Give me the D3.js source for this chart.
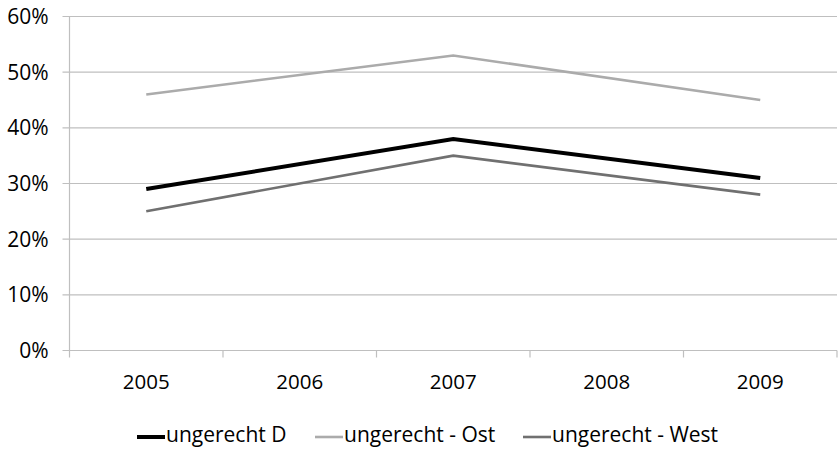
<!DOCTYPE html>
<html>
<head>
<meta charset="utf-8">
<script src="https://cdn.jsdelivr.net/npm/d3@7"></script>
<style>
  body { margin: 0; background: white; }
  text { font-family: "Open Sans", "Liberation Sans", sans-serif; fill: #000; }
</style>
</head>
<body>
<script>
// data (2006 / 2008 have no values, line joins the known years)
var years = ["2005", "2006", "2007", "2008", "2009"];
var ungerechtD    = [0.29, null, 0.38, null, 0.31];
var ungerechtOst  = [0.46, null, 0.53, null, 0.45];
var ungerechtWest = [0.25, null, 0.35, null, 0.28];
var yTicks = [0, 0.1, 0.2, 0.3, 0.4, 0.5, 0.6];

var series = [
  {name: "ungerecht D", values: ungerechtD, color: "#000000", width: 4},
  {name: "ungerecht - Ost", values: ungerechtOst, color: "#ababab", width: 2.6},
  {name: "ungerecht - West", values: ungerechtWest, color: "#707070", width: 2.6}
];

var width = 839, height = 450;
var margin = {left: 69.5, right: 2, top: 16.5, bottom: 99.5};

var svg = d3.select("body").append("svg")
    .attr("width", width)
    .attr("height", height);

var x = d3.scaleBand()
    .domain(years)
    .range([margin.left, width - margin.right]);

var y = d3.scaleLinear()
    .domain([0, 0.6])
    .range([height - margin.bottom, margin.top]);

// gridlines
svg.append("g")
  .selectAll("line")
  .data(yTicks)
  .enter().append("line")
  .attr("x1", margin.left - 7)
  .attr("x2", width - margin.right)
  .attr("y1", function(d) { return y(d); })
  .attr("y2", function(d) { return y(d); })
  .style("stroke", "#bfbfbf")
  .style("stroke-width", 1.2);

// y axis line
svg.append("line")
  .attr("x1", margin.left).attr("x2", margin.left)
  .attr("y1", y(0.6)).attr("y2", y(0))
  .style("stroke", "#bfbfbf")
  .style("stroke-width", 1.2);

// y labels
svg.append("g")
  .selectAll("text")
  .data(yTicks)
  .enter().append("text")
  .attr("x", 48.5)
  .attr("y", function(d) { return y(d); })
  .attr("dy", "0.36em")
  .attr("text-anchor", "end")
  .style("font-size", "21px")
  .text(d3.format(".0%"));

// x axis ticks between categories
var bounds = years.map(function(d) { return x(d); }).concat([x(years[4]) + x.bandwidth()]);
svg.append("g")
  .selectAll("line")
  .data(bounds)
  .enter().append("line")
  .attr("x1", function(d) { return d; })
  .attr("x2", function(d) { return d; })
  .attr("y1", y(0))
  .attr("y2", y(0) + 7)
  .style("stroke", "#bfbfbf")
  .style("stroke-width", 1.2);

// x labels
svg.append("g")
  .selectAll("text")
  .data(years)
  .enter().append("text")
  .attr("x", function(d) { return x(d) + x.bandwidth() / 2; })
  .attr("y", 382)
  .attr("dy", "0.36em")
  .attr("text-anchor", "middle")
  .style("font-size", "20.5px")
  .text(function(d) { return d; });

// lines
var line = d3.line()
    .x(function(d) { return x(d.year) + x.bandwidth() / 2; })
    .y(function(d) { return y(d.v); });

series.forEach(function(s) {
  var pts = years.map(function(yr, i) { return {year: yr, v: s.values[i]}; })
                 .filter(function(d) { return d.v != null; });
  svg.append("path")
    .datum(pts)
    .attr("d", line)
    .style("fill", "none")
    .style("stroke", s.color)
    .style("stroke-width", s.width)
    .style("stroke-linejoin", "miter");
});

// legend
var legendX = [137, 315, 523];
var legend = svg.append("g")
  .selectAll("g")
  .data(series)
  .enter().append("g")
  .attr("transform", function(d, i) { return "translate(" + legendX[i] + ",437)"; });

legend.append("line")
  .attr("x1", 0).attr("x2", 28)
  .style("stroke", function(d) { return d.color; })
  .style("stroke-width", function(d) { return d.width; });

legend.append("text")
  .attr("x", 29)
  .attr("y", 5)
  .style("font-size", "21px")
  .text(function(d) { return d.name; });
</script>
</body>
</html>
